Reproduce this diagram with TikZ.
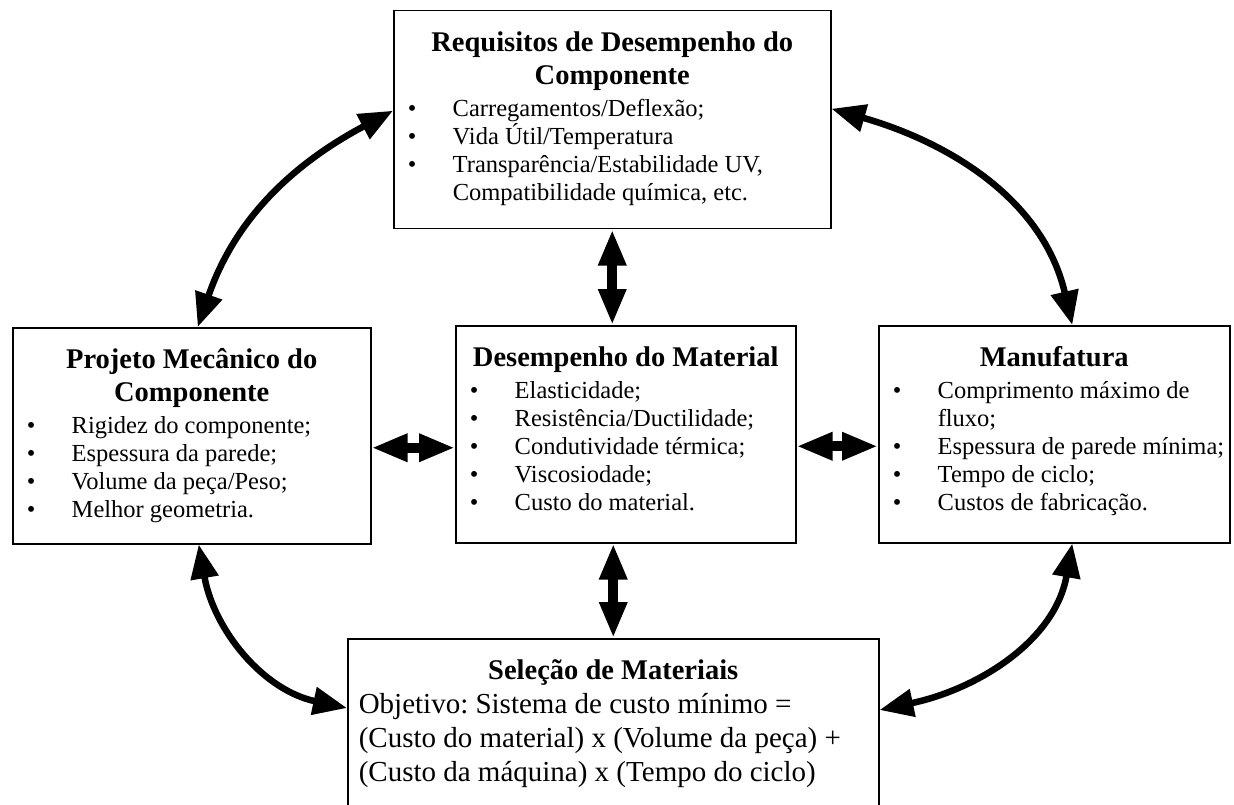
\documentclass[tikz,border=0pt]{standalone}
\usepackage{fontspec}
\setmainfont{Liberation Serif}
\usetikzlibrary{arrows.meta}

\tikzset{
  caixa/.style={draw, line width=1.5pt, inner sep=0pt, anchor=north west},
  arco/.style={{Triangle[length=34pt,width=27pt]}-{Triangle[length=34pt,width=27pt]}, line width=6.5pt},
  seta/.style={{Triangle[length=36pt,width=26pt]}-{Triangle[length=36pt,width=26pt]}, line width=10pt},
}

\newcommand{\corpo}[3]{\parbox[c][#2][t]{#1}{\fontsize{24.5}{28}\selectfont\frenchspacing\raggedright #3}}
\newcommand{\titulo}[2][4pt]{{\centering\bfseries\fontsize{28.5}{33}\selectfont\rule{0pt}{41pt}#2\par}\vspace{#1}}
\newcommand{\topico}{\par\hangindent=59pt\hangafter=1\noindent\makebox[59pt][l]{\hspace{14pt}\textbullet}}

\begin{document}
\begin{tikzpicture}[x=1pt,y=1pt]
\useasboundingbox (0,0) rectangle (1234,-805);

% caixas
\node[caixa] (req) at (393,-10) {\corpo{437pt}{218pt}{%
  \titulo{Requisitos de Desempenho do\\ Componente}
  \topico Carregamentos/Deflexão;
  \topico Vida Útil/Temperatura
  \topico Transparência/Estabilidade UV,\newline Compatibilidade química, etc.}};

\node[caixa] (proj) at (12,-327) {\corpo{358pt}{216pt}{%
  \titulo{Projeto Mecânico do\\ Componente}
  \topico Rigidez do componente;
  \topico Espessura da parede;
  \topico Volume da peça/Peso;
  \topico Melhor geometria.}};

\node[caixa] (mat) at (455,-325) {\corpo{340pt}{217pt}{%
  \titulo{Desempenho do Material}
  \topico Elasticidade;
  \topico Resistência/Ductilidade;
  \topico Condutividade térmica;
  \topico Viscosiodade;
  \topico Custo do material.}};

\node[caixa] (manu) at (878,-325) {\corpo{351pt}{217pt}{%
  \titulo{Manufatura}
  \topico Comprimento máximo de\newline fluxo;
  \topico Espessura de parede mínima;
  \topico Tempo de ciclo;
  \topico Custos de fabricação.}};

\node[caixa] (sel) at (347,-638) {\corpo{531pt}{180pt}{\fontsize{29}{34}\selectfont\leftskip=11pt
  \titulo[0pt]{Seleção de Materiais}
  Objetivo: Sistema de custo mínimo =\newline
  (Custo do material) x (Volume da peça) +\newline
  (Custo da máquina) x (Tempo do ciclo)}};

% setas retas
\draw[seta] (req.south) -- (req.south |- mat.north);
\draw[seta] (sel.north |- mat.south) -- (sel.north);
\draw[seta] ([yshift=-12pt]proj.east) -- ([yshift=-12pt]proj.east -| mat.west);
\draw[seta] ([yshift=-12pt]mat.east) -- ([yshift=-12pt]mat.east -| manu.west);

% setas curvas
\draw[arco] ([yshift=9pt]req.west) to[out=208, in=71] ([xshift=6pt]proj.north);
\draw[arco] ([yshift=11pt]req.east) to[out=-16, in=103] ([xshift=18pt]manu.north);
\draw[arco] ([xshift=7pt]proj.south) to[out=-80, in=168] ([yshift=-70pt]sel.north west);
\draw[arco] ([xshift=18pt]manu.south) to[out=-100, in=12] ([yshift=-72pt]sel.north east);
\end{tikzpicture}
\end{document}
